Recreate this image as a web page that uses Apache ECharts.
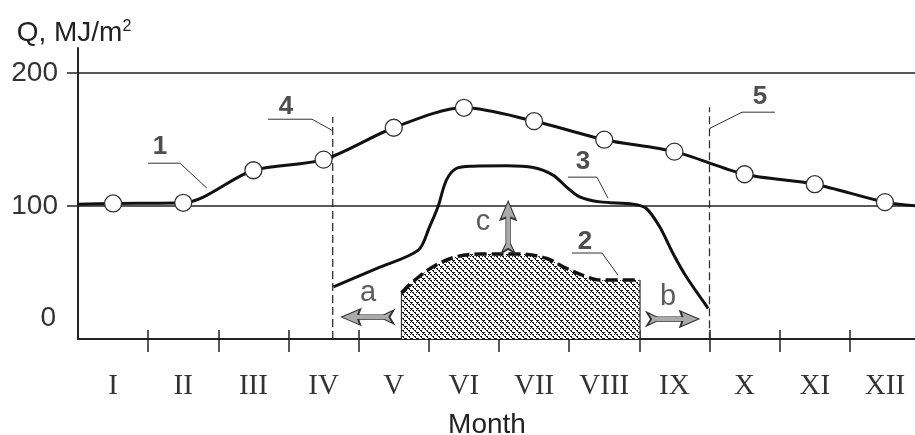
<!DOCTYPE html>
<html>
<head>
<meta charset="utf-8">
<script src="https://cdn.jsdelivr.net/npm/echarts@6/dist/echarts.min.js"></script>
<style>
html,body{margin:0;padding:0;background:#fff;}
#chart{width:915px;height:435px;}
</style>
</head>
<body>
<div id="chart"></div>
<script>
// ---- data ----
const months = ['I','II','III','IV','V','VI','VII','VIII','IX','X','XI','XII'];
const monthPos = [0.5,1.5,2.5,3.5,4.5,5.5,6.5,7.5,8.5,9.5,10.5,11.5];
const monthBounds = [1,2,3,4,5,6,7,8,9,10,11];
const yTickLabels = [0,100,200];
const yGridLines = [100,200];

// curve 1 (monthly values, circles)
const curve1 = [102,102.5,127,135,159,174,164,150,141,124,116.5,103];
const curve1Start = [0,101.5];
const curve1End = [12,100];

// curve 3
const curve3X = [3.64,4.26,4.85,5.01,5.13,5.25,5.39,5.63,6.11,6.49,6.77,6.96,7.15,7.44,7.91,8.10,8.29,8.48,8.67,8.98];
const curve3Y = [39.3,53.2,66.9,84.4,99.5,119.5,128.3,130,130.3,129,123.3,114.5,107,103.2,101.5,98.2,84.4,64.4,46.8,23.1];

// curve 2 (dashed, hatched area)
const curve2X = [4.61,4.77,5.06,5.39,5.73,6.30,6.68,6.96,7.25,7.44,8.01];
const curve2Y = [34.6,43,54.4,61.9,63.9,63.9,60.6,53.1,46.8,44.4,44.4];

// dashed verticals 4 and 5: [x, top]
const vline4 = [3.63,167];
const vline5 = [9.0,174.5];

// callout labels
const calloutText = ['1','2','3','4','5'];
const calloutPos = [[1.169,144.4],[7.225,72.9],[7.197,133.1],[2.964,174.4],[9.719,182]];
const calloutLeaders = [
  [[0.998,132.3],[1.454,132.3],[1.838,113.5]],
  [[7.04,64.7],[7.468,64.7],[7.696,48.1]],
  [[6.983,121.8],[7.396,121.8],[7.553,106]],
  [[2.708,165.4],[3.335,165.4],[3.62,157.1]],
  [[9.933,170.7],[9.463,170.7],[9.007,158.6]]
];

// block arrows a, b, c
const arrowText = ['a','b','c'];
const arrowTextPos = [[4.133,34.6],[8.408,31.6],[5.772,88]];
const arrowPos = [[4.126,16.5],[8.479,15.0],[6.13,84.2]];
const arrowRot = [180,0,90];

// ---- build ----
function makeHatch(){
  const n = 6;
  const c = document.createElement('canvas');
  c.width = n; c.height = n;
  const g = c.getContext('2d');
  g.fillStyle = '#fff'; g.fillRect(0,0,n,n);
  g.fillStyle = '#161616';
  for (let y=0;y<n;y++){
    for (let x=0;x<n;x++){
      const d = ((x-y)%n+n)%n;
      if (d===0 || (d===1 && y%2===0) || (((x+y)%n)===0 && x%2===0)) g.fillRect(x,y,1,1);
    }
  }
  return c;
}

const c1data = [{value:curve1Start, symbol:'none'}];
curve1.forEach((v,i)=>c1data.push({value:[monthPos[i],v]}));
c1data.push({value:curve1End, symbol:'none'});

const c3data = curve3X.map((x,i)=>[x,curve3Y[i]]);
const c2data = curve2X.map((x,i)=>[x,curve2Y[i]]);

const arrowPath = 'path://M0,1 L9,5 L34,5 L32,0 L50,7 L32,14 L34,9 L9,9 L0,13 L4,7 Z';

const chart = echarts.init(document.getElementById('chart'));
const FONT = 'Liberation Sans, Arial, sans-serif';
chart.setOption({
  animation:false,
  grid:{left:78,right:-5,top:48,bottom:96,containLabel:false,outerBoundsMode:'none'},
  xAxis:[{
    type:'value',min:0,max:12,interval:1,position:'bottom',
    axisLine:{show:true,onZero:false,lineStyle:{color:'#222',width:2}},
    axisTick:{show:true,inside:false,length:13,customValues:monthBounds,lineStyle:{color:'#222',width:1.5}},
    axisLabel:{show:true,customValues:monthPos,margin:33,
      formatter:v=>months[monthPos.indexOf(v)],
      fontFamily:'Liberation Serif, Times New Roman, serif',fontSize:29,color:'#333'},
    splitLine:{show:false},
    name:'Month',nameLocation:'middle',nameGap:72,
    nameTextStyle:{fontFamily:FONT,fontSize:28,color:'#222',padding:[0,24,0,0]}
  },{
    type:'value',min:0,max:12,interval:1,position:'bottom',offset:0,
    axisLine:{show:false},
    axisTick:{show:true,inside:true,length:9,customValues:monthBounds,lineStyle:{color:'#222',width:1.5}},
    axisLabel:{show:false},splitLine:{show:false}
  }],
  yAxis:{
    type:'value',min:0,max:219,interval:100,
    axisLine:{show:true,lineStyle:{color:'#222',width:2}},
    axisTick:{show:true,inside:false,length:11,customValues:yGridLines,lineStyle:{color:'#222',width:1.5}},
    axisLabel:{show:true,customValues:yTickLabels,margin:20,
      formatter:v=>v===0?'{z|0}':'{n|'+v+'}',
      rich:{
        z:{fontFamily:FONT,fontSize:28,color:'#333',padding:[0,2,41,0]},
        n:{fontFamily:FONT,fontSize:28,color:'#333'}
      }},
    splitLine:{show:false},
    name:'Q, MJ/m{sup|2}',nameLocation:'end',nameGap:1,
    nameTextStyle:{fontFamily:FONT,fontSize:28,color:'#222',align:'center',padding:[0,8,0,0],
      rich:{sup:{fontFamily:FONT,fontSize:16,color:'#222',verticalAlign:'top',padding:[0,0,10,0]}}}
  },
  series:[
    // horizontal reference lines
    {type:'line',data:[],silent:true,
      markLine:{silent:true,symbol:['none','none'],label:{show:false},animation:false,
        lineStyle:{color:'#222',width:1.5,type:'solid'},
        data:yGridLines.map(v=>({yAxis:v}))}},
    // hatched area (curve 2)
    {type:'line',data:c2data,smooth:0.35,symbol:'none',
      lineStyle:{width:0,opacity:0},
      areaStyle:{color:{image:makeHatch(),repeat:'repeat'},opacity:1},z:2},
    // area edges
    {type:'line',data:[[curve2X[0],0],[curve2X[0],curve2Y[0]]],symbol:'none',lineStyle:{color:'#333',width:1.2},z:3},
    {type:'line',data:[[curve2X[curve2X.length-1],0],[curve2X[curve2X.length-1],curve2Y[curve2Y.length-1]]],symbol:'none',lineStyle:{color:'#333',width:1.2},z:3},
    // curve 2 dashed top
    {type:'line',data:c2data,smooth:0.35,symbol:'none',
      lineStyle:{color:'#111',width:3.5,type:[12,5]},z:4},
    // dashed verticals
    {type:'line',data:[[vline4[0],0],[vline4[0],vline4[1]]],symbol:'none',lineStyle:{color:'#333',width:1.3,type:[8,4]},z:3},
    {type:'line',data:[[vline5[0],-10],[vline5[0],vline5[1]]],symbol:'none',lineStyle:{color:'#333',width:1.3,type:[8,4]},z:3},
    // curve 3
    {type:'line',data:c3data,smooth:0.3,symbol:'none',lineStyle:{color:'#111',width:3},z:5},
    // curve 1
    {type:'line',data:c1data,smooth:0.3,symbol:'circle',symbolSize:17,
      lineStyle:{color:'#111',width:3},
      itemStyle:{color:'#fff',borderColor:'#333',borderWidth:1.3},z:6},
    // callout leaders
    {type:'lines',coordinateSystem:'cartesian2d',polyline:true,
      symbol:['none','arrow'],symbolSize:8,
      lineStyle:{color:'#333',width:1,opacity:1,curveness:0},
      data:calloutLeaders.map(c=>({coords:c})),z:7},
    // callout numbers
    {type:'scatter',symbol:'circle',symbolSize:0,z:8,
      data:calloutPos.map((p,i)=>({value:p,name:calloutText[i]})),
      label:{show:true,position:'inside',formatter:p=>p.name,
        fontFamily:FONT,fontWeight:'bold',fontSize:26,color:'#222'}},
    // block arrows
    {type:'scatter',symbol:arrowPath,symbolSize:[52,16],z:8,
      data:arrowPos.map((p,i)=>({value:p,symbolRotate:arrowRot[i]})),
      itemStyle:{color:'#aaaaaa',borderColor:'#333',borderWidth:1.2,opacity:1}},
    // arrow letters
    {type:'scatter',symbol:'circle',symbolSize:0,z:8,
      data:arrowTextPos.map((p,i)=>({value:p,name:arrowText[i]})),
      label:{show:true,position:'inside',formatter:p=>p.name,
        fontFamily:FONT,fontSize:29,color:'#333'}}
  ]
});
</script>
</body>
</html>
